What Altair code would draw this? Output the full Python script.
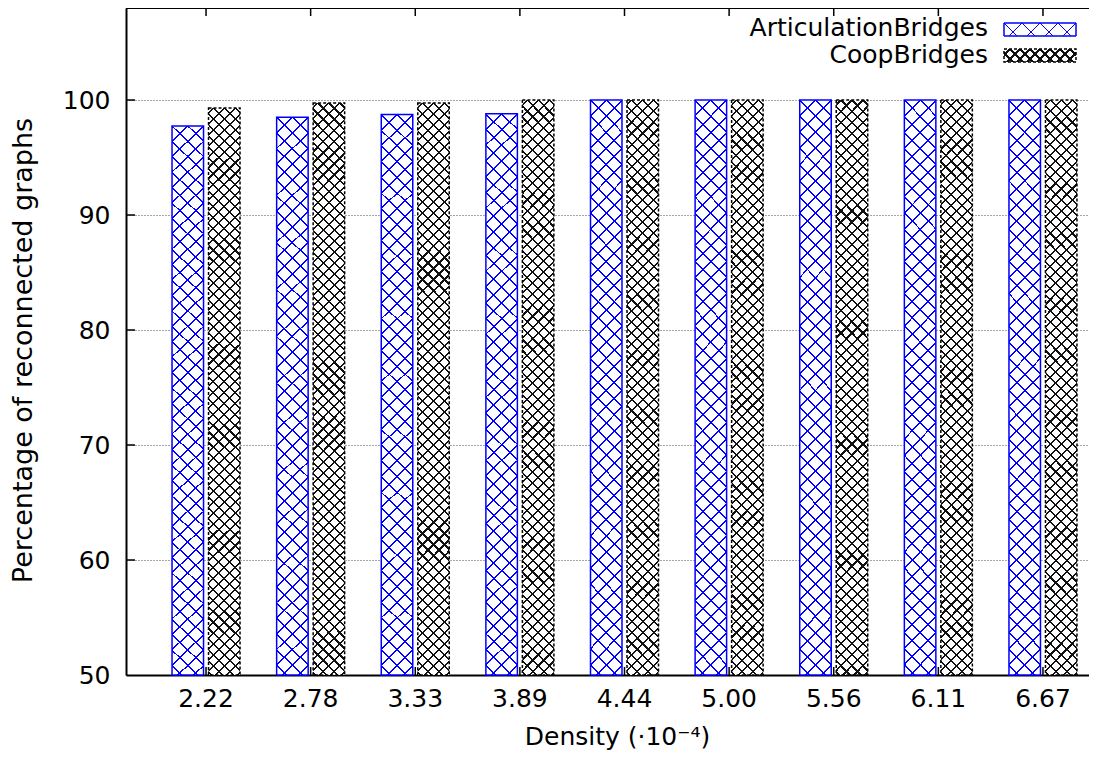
import math
import altair as alt
import pandas as pd

# ---------------- data ----------------
densities = ["2.22", "2.78", "3.33", "3.89", "4.44", "5.00", "5.56", "6.11", "6.67"]
series_names = ["ArticulationBridges", "CoopBridges"]
articulation = [97.75, 98.5, 98.75, 98.8, 100, 100, 100, 100, 100]
coop = [99.3, 99.75, 99.75, 100, 100, 100, 100, 100, 100]
y_ticks = [50, 60, 70, 80, 90, 100]
x_title = "Density (·10⁻⁴)"
y_title = "Percentage of reconnected graphs"

df = pd.DataFrame({
    "density": densities * 2,
    "series": [series_names[0]] * len(densities) + [series_names[1]] * len(densities),
    "value": articulation + coop,
})
grid_df = pd.DataFrame({"v": y_ticks[1:]})
xt_df = pd.DataFrame({"density": densities})

FONT = "DejaVu Sans"
FS = 25
W, H = 963, 667
BLUE = "#0000ff"


def hatch(w, h, d, lw, color, bg, direction):
    """Linear gradient with hard stops that draws 45-degree lines on a w x h box."""
    L = w + h
    r = h / w
    c = (1 + r) / (1 + r * r)
    if direction > 0:
        x1, y1, x2, y2 = 0, 0, c, c * r
    else:
        x1, y1, x2, y2 = 1, 0, 1 - c, c * r
    half = lw * math.sqrt(2) / 2 / L
    phase = (w / 2) % d
    stops = [{"offset": 0, "color": bg}]
    p = phase
    while p < L:
        t = p / L
        a = round(max(0.0, t - half), 5)
        b = round(min(1.0, t + half), 5)
        stops += [
            {"offset": a, "color": bg},
            {"offset": a, "color": color},
            {"offset": b, "color": color},
            {"offset": b, "color": bg},
        ]
        p += d
    stops.append({"offset": 1, "color": bg})
    return {"gradient": "linear", "x1": x1, "y1": y1, "x2": x2, "y2": y2, "stops": stops}


TR = "rgba(255,255,255,0)"
BW, BH = 31.5, 570
blue1 = hatch(BW, BH, 16, 1.4, BLUE, "white", 1)
blue2 = hatch(BW, BH, 16, 1.4, BLUE, TR, -1)
blk1 = hatch(BW, BH, 11, 1.5, "#111111", "white", 1)
blk2 = hatch(BW, BH, 11, 1.5, "#111111", TR, -1)
SW, SH = 72, 13
sblue1 = hatch(SW, SH, 18, 1.4, BLUE, "white", 1)
sblue2 = hatch(SW, SH, 18, 1.4, BLUE, TR, -1)
sblk1 = hatch(SW, SH, 10, 1.5, "#111111", "white", 1)
sblk2 = hatch(SW, SH, 10, 1.5, "#111111", TR, -1)

xscale = alt.Scale(domain=densities, range=[0, 997], paddingInner=0.35, paddingOuter=0.44)
yscale = alt.Scale(domain=[50, 108], nice=False, zero=False)

X = alt.X(
    "density:N", scale=xscale, sort=densities,
    axis=alt.Axis(
        title=x_title, labelAngle=0, ticks=False, tickSize=0, labelPadding=11,
        domainColor="black", domainWidth=2, grid=False,
        labelFont=FONT, labelFontSize=FS, labelColor="black",
        titleFont=FONT, titleFontSize=FS, titleFontWeight="normal", titleColor="black",
        titleX=491, titleY=69, titleBaseline="alphabetic",
    ),
)
Y = alt.Y(
    "value:Q", scale=yscale,
    axis=alt.Axis(
        title=y_title, values=y_ticks, ticks=False, tickSize=0, labelPadding=16,
        domainColor="black", domainWidth=2,
        grid=True, gridColor="black", gridDash=[1, 2], gridWidth=1, gridOpacity=0.7,
        labelFont=FONT, labelFontSize=FS, labelColor="black",
        titleFont=FONT, titleFontSize=27, titleFontWeight="normal", titleColor="black",
        titleX=-95, titleY=342, titleBaseline="alphabetic", titleAngle=270,
    ),
)
XO = alt.XOffset("series:N", scale=alt.Scale(domain=series_names, paddingInner=0.137, paddingOuter=0))

base = alt.Chart(df).encode(x=X, xOffset=XO, y=Y, y2=alt.datum(50))


def series_layers(name, g1, g2, color, dash):
    b = base.transform_filter(alt.datum.series == name)
    l1 = b.mark_bar(fill=g1, strokeWidth=0)
    l2 = b.mark_bar(fill=g2, strokeWidth=0)
    l3 = b.mark_bar(fill=None, fillOpacity=0, stroke=color, strokeWidth=1.5, strokeDash=dash)
    return [l1, l2, l3]


layers = []
layers += series_layers(series_names[0], blue1, blue2, BLUE, [1, 0])
layers += series_layers(series_names[1], blk1, blk2, "black", [3, 2])

# inward ticks and top border
ytick = alt.Chart(grid_df).mark_rule(color="black", strokeWidth=1.5).encode(
    y=alt.Y("v:Q", scale=yscale), x=alt.value(0), x2=alt.value(9)
)
xtick_b = alt.Chart(xt_df).mark_rule(color="black", strokeWidth=1.5).encode(
    x=alt.X("density:N", scale=xscale, sort=densities), y=alt.value(H - 8), y2=alt.value(H)
)
xtick_t = alt.Chart(xt_df).mark_rule(color="black", strokeWidth=1.5).encode(
    x=alt.X("density:N", scale=xscale, sort=densities), y=alt.value(0), y2=alt.value(8)
)
top_border = alt.Chart(xt_df.head(1)).mark_rule(color="black", strokeWidth=2).encode(
    x=alt.value(0), x2=alt.value(W), y=alt.value(0)
)

# legend (manual, gnuplot style: text then swatch)
leg = []
rows = [(series_names[0], 20, 15, sblue1, sblue2, BLUE, [1, 0]),
        (series_names[1], 47, 41, sblk1, sblk2, "black", [3, 2])]
for name, ty, sy, g1, g2, col, dash in rows:
    ldf = pd.DataFrame({"name": [name]})
    leg.append(alt.Chart(ldf).mark_text(align="right", baseline="middle", font=FONT, fontSize=FS, color="black").encode(
        text="name:N", x=alt.value(862), y=alt.value(ty)))
    for g in (g1, g2):
        leg.append(alt.Chart(ldf).mark_rect(fill=g, strokeWidth=0).encode(
            x=alt.value(878), x2=alt.value(950), y=alt.value(sy), y2=alt.value(sy + 13)))
    leg.append(alt.Chart(ldf).mark_rect(fill=None, fillOpacity=0, stroke=col, strokeWidth=1.5, strokeDash=dash).encode(
        x=alt.value(878), x2=alt.value(950), y=alt.value(sy), y2=alt.value(sy + 13)))

chart = alt.layer(*layers, ytick, xtick_b, xtick_t, top_border, *leg).properties(
    width=W, height=H,
    autosize=alt.AutoSizeParams(type="none"),
    padding={"left": 118, "top": 0, "right": 0, "bottom": 75},
).configure_view(stroke=None).configure(background="white")

chart.save("out.html", embed_options={"renderer": "svg", "actions": False})
